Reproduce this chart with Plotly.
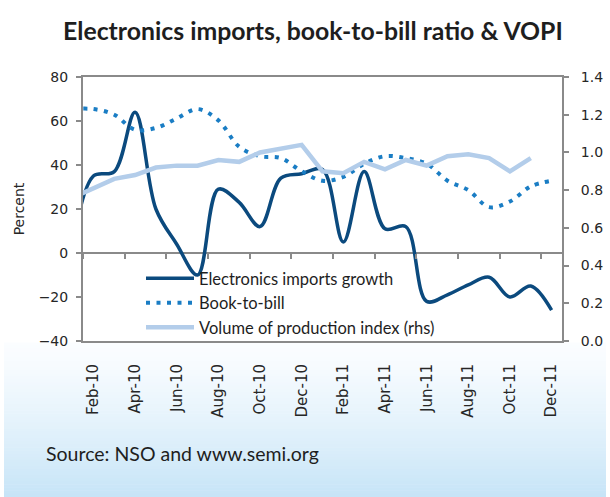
import plotly.graph_objects as go

months = ["Jan-10", "Feb-10", "Mar-10", "Apr-10", "May-10", "Jun-10", "Jul-10", "Aug-10",
          "Sep-10", "Oct-10", "Nov-10", "Dec-10", "Jan-11", "Feb-11", "Mar-11", "Apr-11",
          "May-11", "Jun-11", "Jul-11", "Aug-11", "Sep-11", "Oct-11", "Nov-11", "Dec-11"]

imports_growth = [2, 35, 37, 64, 20, 4, -10, 29, 23, 12, 34, 36,
                  38, 5, 37, 11, 12, -22, -19, -14.5, -11, -20, -15, -26]

book_to_bill = [1.23, 1.23, 1.20, 1.12, 1.13, 1.18, 1.23, 1.17, 1.03, 0.98, 0.97, 0.90,
                0.85, 0.87, 0.94, 0.98, 0.97, 0.94, 0.85, 0.80, 0.71, 0.74, 0.82, 0.85]

vopi = [0.76, 0.81, 0.86, 0.88, 0.92, 0.93, 0.93, 0.96, 0.95, 1.00, 1.02, 1.04,
        0.90, 0.89, 0.95, 0.91, 0.96, 0.93, 0.98, 0.99, 0.97, 0.90, 0.97, None]

label_months = months[1::2]

x_idx = list(range(len(months)))
label_idx = x_idx[1::2]

AXIS_COLOR = "#8a8a8a"
TICK_FONT = dict(family="DejaVu Sans", size=14, color="#262626")
XTICK_FONT = dict(family="DejaVu Sans", size=15, color="#262626")
CAL = "Lato"

fig = go.Figure()

fig.add_trace(go.Scatter(
    x=x_idx, y=imports_growth, name="Electronics imports growth", mode="lines",
    line=dict(color="#0b4a7e", width=3.5, shape="spline", smoothing=1.0),
    yaxis="y"))
fig.add_trace(go.Scatter(
    x=x_idx, y=book_to_bill, name="Book-to-bill", mode="lines",
    line=dict(color="#1a7dc4", width=4, shape="spline", smoothing=1.0, dash="4px,6.5px"),
    yaxis="y2"))
fig.add_trace(go.Scatter(
    x=x_idx, y=vopi, name="Volume of production index (rhs)", mode="lines",
    line=dict(color="#b3cdea", width=4.5),
    yaxis="y2"))
# empty helper trace so the zero-crossing category axis (ticks) gets drawn
fig.add_trace(go.Scatter(x=[None], y=[None], xaxis="x2", yaxis="y", mode="lines",
                         showlegend=False, hoverinfo="skip"))

shapes = []
n = 50
top_px, bot_px = 343, 497
c0 = (251, 253, 255)
c1 = (198, 228, 247)
for i in range(n):
    y0 = top_px + (bot_px - top_px) * i / n
    y1 = top_px + (bot_px - top_px) * (i + 1) / n
    t = ((i + 0.5) / n) ** 1.3
    col = tuple(int(round(c0[k] + (c1[k] - c0[k]) * t)) for k in range(3))
    shapes.append(dict(type="rect", xref="paper", yref="paper",
                       x0=-79 / 479, x1=(606 - 83) / 479,
                       y0=(341 - y1) / 264, y1=(341 - y0) / 264 + 0.002,
                       fillcolor="rgb(%d,%d,%d)" % col, line=dict(width=0), layer="below"))

fig.update_layout(
    width=610, height=497,
    margin=dict(l=83, r=48, t=77, b=156, autoexpand=False),
    paper_bgcolor="white", plot_bgcolor="white",
    shapes=shapes,
    title=dict(text="<b>Electronics imports, book-to-bill ratio &amp; VOPI</b>",
               x=0.513, xanchor="center", y=1 - 31 / 497, yanchor="middle",
               font=dict(family=CAL, size=24.8, color="#1e1e1e"), automargin=False),
    showlegend=True,
    legend=dict(x=(141 - 83) / 479, xanchor="left", y=(341 - 261) / 264, yanchor="top",
                bgcolor="rgba(0,0,0,0)", font=dict(family=CAL, size=16.5, color="#1e1e1e"),
                itemwidth=48, tracegroupgap=0),
    xaxis=dict(range=[0.5, 23.5], tickmode="array", tickvals=label_idx, ticktext=label_months,
               tickangle=-90, ticks="", showline=True, linecolor=AXIS_COLOR, linewidth=2,
               mirror=True, showgrid=False, zeroline=False, tickfont=XTICK_FONT,
               ticklabelstandoff=15),
    xaxis2=dict(range=[0.5, 23.5], overlaying="x", anchor="free", position=1 / 3, side="bottom",
                tickmode="linear", tick0=2.5, dtick=2, ticks="outside", ticklen=5,
                tickcolor=AXIS_COLOR, tickwidth=1.5,
                showticklabels=False, showline=False,
                showgrid=False, zeroline=False),
    yaxis=dict(range=[-40, 80], dtick=20, tick0=0, ticks="outside", ticklen=5,
               tickcolor=AXIS_COLOR, tickwidth=1.5,
               showline=True, linecolor=AXIS_COLOR, linewidth=2, showgrid=False, zeroline=True,
               zerolinecolor=AXIS_COLOR, zerolinewidth=2,
               tickfont=TICK_FONT, ticklabelstandoff=5,
               title=dict(text="Percent", font=dict(family="DejaVu Sans", size=14, color="#262626"),
                          standoff=11)),
    yaxis2=dict(range=[0, 1.4], dtick=0.2, tick0=0, tickformat=".1f", overlaying="y", side="right",
                ticks="outside", ticklen=5, tickcolor=AXIS_COLOR, tickwidth=1.5,
                showline=True, linecolor=AXIS_COLOR, linewidth=2, showgrid=False, zeroline=False,
                tickfont=TICK_FONT, ticklabelstandoff=9),
    annotations=[dict(text="Source: NSO and www.semi.org", xref="paper", yref="paper",
                      x=(44 - 83) / 479, xanchor="left", y=(341 - 453) / 264, yanchor="middle",
                      showarrow=False, font=dict(family=CAL, size=19.5, color="#1e1e1e"))],
)

fig.write_html("out.html", config={"displayModeBar": False},
               post_script="document.body.style.margin='0';document.body.style.overflow='hidden';")
